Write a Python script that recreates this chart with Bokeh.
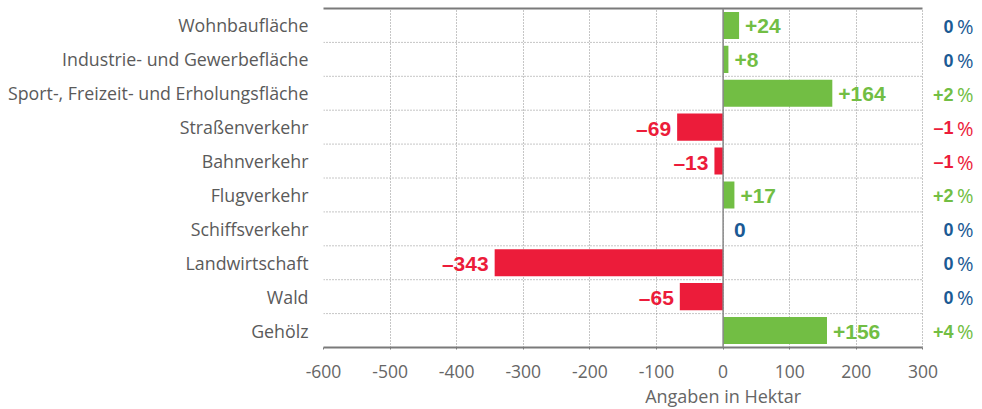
from bokeh.plotting import figure
from bokeh.models import (ColumnDataSource, FixedTicker, Span, Range1d,
                          LinearAxis)
from bokeh.core.properties import value
from bokeh.embed import file_html
from bokeh.resources import INLINE

categories = ["Wohnbaufläche", "Industrie- und Gewerbefläche",
              "Sport-, Freizeit- und Erholungsfläche", "Straßenverkehr",
              "Bahnverkehr", "Flugverkehr", "Schiffsverkehr",
              "Landwirtschaft", "Wald", "Gehölz"]
values = [24, 8, 164, -69, -13, 17, 0, -343, -65, 156]
percents = [0, 0, 2, -1, -1, 2, 0, 0, 0, 4]
x_ticks = [-600, -500, -400, -300, -200, -100, 0, 100, 200, 300]
x_title = "Angaben in Hektar"

GREEN = "#72be44"
RED = "#ec1c3a"
BLUE = "#1b5a94"
GRAY_TXT = "#5a5a5a"
GRID = "#8c8c8c"
FONT = "Open Sans"
BFONT = "Liberation Sans"

PX_PER_UNIT = 599 / 900.0   # layout scale
X_END = 385                 # room for the percentage column
PCT_X = 376                 # right edge of percentage column

n = len(categories)
ypos = [n - i - 0.5 for i in range(n)]
bounds = list(range(1, n))


def col(v):
    return GREEN if v > 0 else (RED if v < 0 else BLUE)


def fmt(v):
    return ("+%d" % v) if v > 0 else (("\u2013%d" % -v) if v < 0 else "0")


src = ColumnDataSource(dict(
    y=ypos,
    left=[min(v, 0) for v in values],
    right=[max(v, 0) for v in values],
    color=[col(v) for v in values],
    label=[fmt(v) for v in values],
    lx=values,
))

p = figure(frame_width=round((X_END - x_ticks[0]) * PX_PER_UNIT),
           frame_height=339, output_backend="svg", toolbar_location=None,
           x_range=Range1d(x_ticks[0], X_END), y_range=Range1d(0, n),
           min_border_left=323, min_border_right=0, min_border_top=8,
           min_border_bottom=10)
p.outline_line_color = None

# vertical dotted grid
p.xgrid.ticker = FixedTicker(ticks=x_ticks)
p.xgrid.grid_line_color = GRID
p.xgrid.grid_line_dash = "1 2"
p.ygrid.visible = False

# horizontal dotted separators between categories (only over the axis span)
p.segment(x0=[x_ticks[0]] * len(bounds), x1=[x_ticks[-1]] * len(bounds),
          y0=bounds, y1=bounds, line_color=GRID, line_dash="1 2",
          line_width=1)

p.hbar(y="y", left="left", right="right", height=0.8, color="color",
       line_color=None, source=src)


def sub(cond):
    idx = [i for i, v in enumerate(values) if cond(v)]
    return ColumnDataSource({k: [src.data[k][i] for i in idx]
                             for k in src.data})


lab_kw = dict(x="lx", y="y", text="label", text_font=value(BFONT),
              text_font_size="21px", text_font_style="bold",
              text_baseline="middle", text_color="color", y_offset=1)
p.text(source=sub(lambda v: v > 0), x_offset=6, text_align="left", **lab_kw)
p.text(source=sub(lambda v: v < 0), x_offset=-6, text_align="right", **lab_kw)
p.text(source=sub(lambda v: v == 0), x_offset=11, text_align="left", **lab_kw)

# percentage column
psrc = ColumnDataSource(dict(
    y=ypos,
    x=[PCT_X] * n,
    pct=[fmt(v) for v in percents],
    sign=["%"] * n,
    color=[col(v) for v in percents],
))
p.text(x="x", y="y", text="sign", source=psrc, text_font=value(FONT),
       text_font_size="20px", text_align="right", text_baseline="middle",
       text_color="color", y_offset=1)
p.text(x="x", y="y", text="pct", source=psrc, text_font=value(BFONT),
       text_font_size="18px", text_font_style="bold", text_align="right",
       text_baseline="middle", text_color="color", x_offset=-20, y_offset=1)

# axes
p.yaxis.ticker = FixedTicker(ticks=ypos)
p.yaxis.major_label_overrides = {y: c for y, c in zip(ypos, categories)}
p.yaxis.axis_line_color = None
p.yaxis.major_tick_line_color = None
p.yaxis.major_tick_out = 0
p.yaxis.major_tick_in = 0
p.yaxis.minor_tick_line_color = None
p.yaxis.major_label_standoff = 15
p.yaxis.major_label_text_font = FONT
p.yaxis.major_label_text_font_size = "17.8px"
p.yaxis.major_label_text_color = GRAY_TXT

p.xaxis.ticker = FixedTicker(ticks=x_ticks)
p.xaxis.bounds = (x_ticks[0], x_ticks[-1])
p.xaxis.major_label_overrides = {t: str(t) for t in x_ticks}
p.xaxis.axis_line_color = "#7a7a7a"
p.xaxis.axis_line_width = 2
p.xaxis.major_tick_line_color = "#7a7a7a"
p.xaxis.major_tick_in = 0
p.xaxis.major_tick_out = 2
p.xaxis.minor_tick_line_color = None
p.xaxis.major_label_standoff = 15
p.xaxis.major_label_text_font = FONT
p.xaxis.major_label_text_font_size = "17.5px"
p.xaxis.major_label_text_color = "#666666"

# axis title centred at zero, as a second (label-only) axis
title_axis = LinearAxis(ticker=FixedTicker(ticks=[0]),
                        major_label_overrides={0: x_title})
title_axis.axis_line_color = None
title_axis.major_tick_line_color = None
title_axis.major_tick_out = 0
title_axis.major_tick_in = 0
title_axis.minor_tick_line_color = None
title_axis.major_label_standoff = 3
title_axis.major_label_text_font = FONT
title_axis.major_label_text_font_size = "18px"
title_axis.major_label_text_color = "#666666"
p.add_layout(title_axis, "below")

# solid top border (only over the axis span)
top_axis = LinearAxis(ticker=FixedTicker(ticks=[]),
                      bounds=(x_ticks[0], x_ticks[-1]))
top_axis.axis_line_color = "#7a7a7a"
top_axis.axis_line_width = 2
top_axis.major_tick_line_color = None
top_axis.major_tick_out = 0
top_axis.major_tick_in = 0
top_axis.minor_tick_line_color = None
top_axis.major_label_standoff = 0
top_axis.major_label_text_font_size = "0px"
p.add_layout(top_axis, "above")

p.add_layout(Span(location=0, dimension="height", line_color="#888888",
                  line_width=1.5))

open("out.html", "w").write(file_html(p, INLINE))
